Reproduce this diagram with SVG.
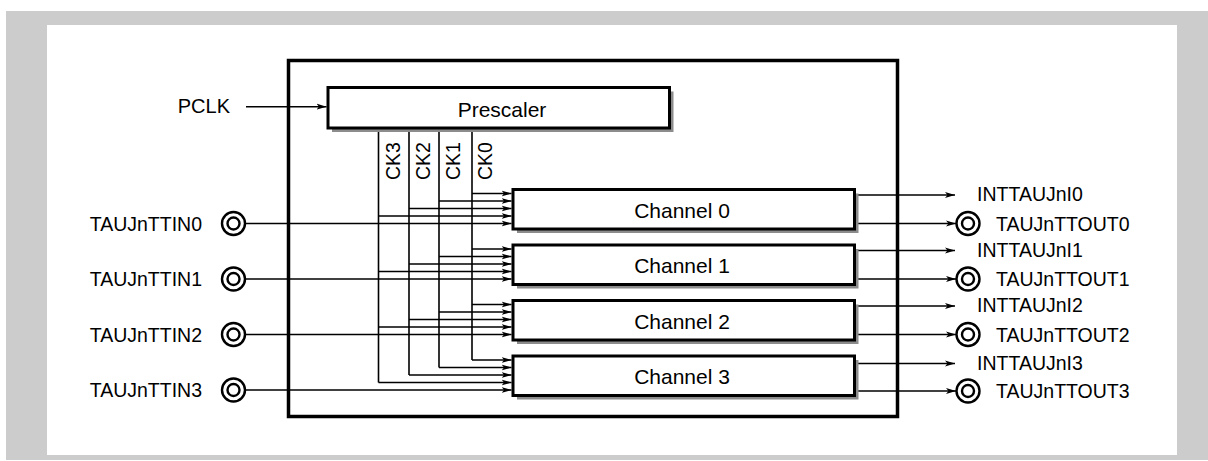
<svg xmlns="http://www.w3.org/2000/svg" width="1208" height="461" viewBox="0 0 1208 461">
<style>
text{font-family:"Liberation Sans",Arial,sans-serif;fill:#000}
.lbl{font-size:19.5px}
.big{font-size:21px;text-anchor:middle}
.ck{font-size:19.5px}
.box{fill:#fff;stroke:#000;stroke-width:3}
.shadow{fill:#8c8c8c}
.ln{stroke:#000;stroke-width:1.6;fill:none}
.pin{fill:none;stroke:#000;stroke-width:2.4}
</style>
<defs>
<marker id="ar" markerUnits="userSpaceOnUse" markerWidth="10" markerHeight="7" refX="10" refY="3.5" orient="auto">
<path d="M0,0.5 L10,3.5 L0,6.5 L2.5,3.5 z" fill="#000"/>
</marker>
</defs>
<rect x="6" y="11" width="1202" height="449" fill="#ccc"/>
<rect x="47" y="25" width="1130" height="430" fill="#fff"/>
<g id="main-box">
<rect x="288.5" y="60.5" width="609" height="356" fill="none" stroke="#000" stroke-width="3.5"/>
</g>
<g id="connectors" class="ln">
<line x1="246" y1="106.7" x2="326.5" y2="106.7" marker-end="url(#ar)"/>
<line x1="472" y1="129.5" x2="472" y2="360"/>
<line x1="439" y1="129.5" x2="439" y2="367.5"/>
<line x1="409" y1="129.5" x2="409" y2="375"/>
<line x1="378.5" y1="129.5" x2="378.5" y2="382.5"/>
<g marker-end="url(#ar)">
<line x1="472" y1="193.5" x2="511.5" y2="193.5"/>
<line x1="439" y1="201" x2="511.5" y2="201"/>
<line x1="409" y1="208.5" x2="511.5" y2="208.5"/>
<line x1="378.5" y1="216" x2="511.5" y2="216"/>
<line x1="245" y1="223.5" x2="511.5" y2="223.5"/>
<line x1="472" y1="249" x2="511.5" y2="249"/>
<line x1="439" y1="256.5" x2="511.5" y2="256.5"/>
<line x1="409" y1="264" x2="511.5" y2="264"/>
<line x1="378.5" y1="271.5" x2="511.5" y2="271.5"/>
<line x1="245" y1="279" x2="511.5" y2="279"/>
<line x1="472" y1="304.5" x2="511.5" y2="304.5"/>
<line x1="439" y1="312" x2="511.5" y2="312"/>
<line x1="409" y1="319.5" x2="511.5" y2="319.5"/>
<line x1="378.5" y1="327" x2="511.5" y2="327"/>
<line x1="245" y1="334.5" x2="511.5" y2="334.5"/>
<line x1="472" y1="360" x2="511.5" y2="360"/>
<line x1="439" y1="367.5" x2="511.5" y2="367.5"/>
<line x1="409" y1="375" x2="511.5" y2="375"/>
<line x1="378.5" y1="382.5" x2="511.5" y2="382.5"/>
<line x1="245" y1="390" x2="511.5" y2="390"/>
<line x1="856" y1="195" x2="955" y2="195"/>
<line x1="856" y1="223.5" x2="956" y2="223.5"/>
<line x1="856" y1="250.5" x2="955" y2="250.5"/>
<line x1="856" y1="279" x2="956" y2="279"/>
<line x1="856" y1="306" x2="955" y2="306"/>
<line x1="856" y1="334.5" x2="956" y2="334.5"/>
<line x1="856" y1="363.5" x2="955" y2="363.5"/>
<line x1="856" y1="391" x2="956" y2="391"/>
</g>
</g>
<g id="prescaler">
<rect class="shadow" x="332" y="91.5" width="341.5" height="40.5"/>
<rect class="box" x="328" y="87.5" width="341.5" height="40.5"/>
<text class="big" x="502" y="116.5">Prescaler</text>
</g>
<g id="ck-labels">
<text class="ck" transform="translate(399.5,180) rotate(-90)">CK3</text>
<text class="ck" transform="translate(430,180) rotate(-90)">CK2</text>
<text class="ck" transform="translate(460,180) rotate(-90)">CK1</text>
<text class="ck" transform="translate(492,180) rotate(-90)">CK0</text>
</g>
<g id="channel0">
<rect class="shadow" x="517" y="193.5" width="341.5" height="39.5"/>
<rect class="box" x="513" y="189.5" width="341.5" height="39.5"/>
<text class="big" x="682" y="217.5">Channel 0</text>
</g>
<g id="channel1">
<rect class="shadow" x="517" y="249" width="341.5" height="39.5"/>
<rect class="box" x="513" y="245" width="341.5" height="39.5"/>
<text class="big" x="682" y="273">Channel 1</text>
</g>
<g id="channel2">
<rect class="shadow" x="517" y="304.5" width="341.5" height="39.5"/>
<rect class="box" x="513" y="300.5" width="341.5" height="39.5"/>
<text class="big" x="682" y="328.5">Channel 2</text>
</g>
<g id="channel3">
<rect class="shadow" x="517" y="360" width="341.5" height="39.5"/>
<rect class="box" x="513" y="356" width="341.5" height="39.5"/>
<text class="big" x="682" y="384">Channel 3</text>
</g>
<g id="pclk">
<text class="lbl" x="230" y="113" text-anchor="end" style="font-size:20px">PCLK</text>
</g>
<g id="ttin0">
<circle class="pin" cx="233.5" cy="223.5" r="11.5"/><circle class="pin" cx="233.5" cy="223.5" r="6"/>
<text class="lbl" x="202" y="230.5" text-anchor="end">TAUJnTTIN0</text>
</g>
<g id="ttin1">
<circle class="pin" cx="233.5" cy="279" r="11.5"/><circle class="pin" cx="233.5" cy="279" r="6"/>
<text class="lbl" x="202" y="286" text-anchor="end">TAUJnTTIN1</text>
</g>
<g id="ttin2">
<circle class="pin" cx="233.5" cy="334.5" r="11.5"/><circle class="pin" cx="233.5" cy="334.5" r="6"/>
<text class="lbl" x="202" y="341.5" text-anchor="end">TAUJnTTIN2</text>
</g>
<g id="ttin3">
<circle class="pin" cx="233.5" cy="390" r="11.5"/><circle class="pin" cx="233.5" cy="390" r="6"/>
<text class="lbl" x="202" y="397" text-anchor="end">TAUJnTTIN3</text>
</g>
<g id="int0"><text class="lbl" x="977" y="201">INTTAUJnI0</text></g>
<g id="int1"><text class="lbl" x="977" y="256.5">INTTAUJnI1</text></g>
<g id="int2"><text class="lbl" x="977" y="312">INTTAUJnI2</text></g>
<g id="int3"><text class="lbl" x="977" y="369.5">INTTAUJnI3</text></g>
<g id="ttout0">
<circle class="pin" cx="968" cy="223.5" r="11.5"/><circle class="pin" cx="968" cy="223.5" r="6"/>
<text class="lbl" x="996" y="230.5">TAUJnTTOUT0</text>
</g>
<g id="ttout1">
<circle class="pin" cx="968" cy="279" r="11.5"/><circle class="pin" cx="968" cy="279" r="6"/>
<text class="lbl" x="996" y="286">TAUJnTTOUT1</text>
</g>
<g id="ttout2">
<circle class="pin" cx="968" cy="334.5" r="11.5"/><circle class="pin" cx="968" cy="334.5" r="6"/>
<text class="lbl" x="996" y="341.5">TAUJnTTOUT2</text>
</g>
<g id="ttout3">
<circle class="pin" cx="968" cy="391" r="11.5"/><circle class="pin" cx="968" cy="391" r="6"/>
<text class="lbl" x="996" y="398">TAUJnTTOUT3</text>
</g>
</svg>
